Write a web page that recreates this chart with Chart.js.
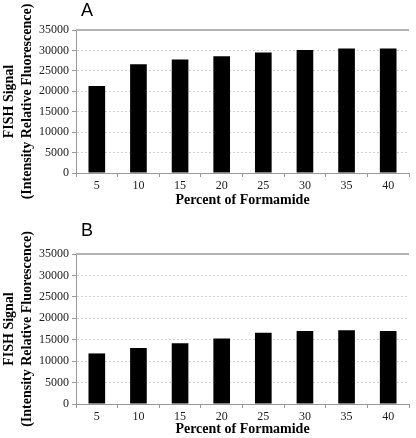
<!DOCTYPE html>
<html>
<head>
<meta charset="utf-8">
<script src="https://cdn.jsdelivr.net/npm/chart.js@4.4.0/dist/chart.umd.min.js"></script>
<style>
  body { margin: 0; background: #fff; }
  #wrap { position: relative; width: 416px; height: 438px; }
  .box { position: absolute; left: 0; width: 416px; }
  .letter { position: absolute; font-family: "Liberation Sans", Arial, sans-serif; font-size: 18px; color: #000; }
</style>
</head>
<body>
<div id="wrap">
  <div class="box" style="top:0"><canvas id="chartA" width="416" height="214"></canvas></div>
  <div class="box" style="top:214px"><canvas id="chartB" width="416" height="224"></canvas></div>
  <div class="letter" style="left:81px;top:0px">A</div>
  <div class="letter" style="left:81px;top:220px">B</div>
</div>
<script>
// Formamide series, both panels
let formamide = ["5", "10", "15", "20", "25", "30", "35", "40"];
let signalA = [21300, 26600, 27800, 28600, 29500, 30100, 30500, 30500];
let signalB = [11800, 13050, 14200, 15300, 16650, 17050, 17200, 17050];
let yTitle = ["FISH Signal", "(Intensity Relative Fluorescence)"];
let xTitle = "Percent of Formamide";

// solid gray line on top of the plot (at the y max)
let topLine = {
    id: "topLine",
    afterDatasetsDraw(chart) {
        let ctx = chart.ctx;
        let y = chart.scales.y.getPixelForValue(chart.scales.y.max);
        ctx.save();
        ctx.strokeStyle = "#b4b4b4";
        ctx.lineWidth = 2;
        ctx.beginPath();
        ctx.moveTo(chart.chartArea.left, y);
        ctx.lineTo(chart.chartArea.right, y);
        ctx.stroke();
        ctx.restore();
    }
};

function makeChart(id, values, top, xHeight, titleBottom) {
    return new Chart(id, {
        type: "bar",
        data: {
            labels: formamide,
            datasets: [{
                data: values,
                backgroundColor: "#000",
                barPercentage: 0.4,
                categoryPercentage: 1
            }]
        },
        options: {
            responsive: false,
            animation: false,
            layout: {padding: {top: top, right: 7, bottom: 0, left: 0}},
            plugins: {legend: {display: false}, tooltip: {enabled: false}},
            scales: {
                x: {
                    offset: true,
                    grid: {offset: true, drawOnChartArea: false, tickLength: 4, color: "#999"},
                    border: {color: "#999"},
                    ticks: {color: "#222", font: {family: "Liberation Serif", size: 12}, padding: 2},
                    title: {display: true, text: xTitle, color: "#000",
                        font: {family: "Liberation Serif", size: 14, weight: "bold"},
                        padding: {top: 0, bottom: titleBottom}},
                    afterFit(scale) { scale.height = xHeight; }
                },
                y: {
                    min: 0, max: 35000,
                    ticks: {stepSize: 5000, color: "#222", font: {family: "Liberation Serif", size: 12}, padding: 3,
                        callback: v => String(v)},
                    grid: {color: "#d2d2d2", tickColor: "#999", tickLength: 4},
                    border: {color: "#999", dash: [2, 2]},
                    title: {display: true, text: yTitle, color: "#000",
                        font: {family: "Liberation Serif", size: 14, weight: "bold", lineHeight: 1.3}, padding: 0},
                    afterFit(scale) { scale.width = 76; }
                }
            }
        },
        plugins: [topLine]
    });
}

makeChart("chartA", signalA, 30, 41, 5);
makeChart("chartB", signalB, 40, 34, 0);
</script>
</body>
</html>
